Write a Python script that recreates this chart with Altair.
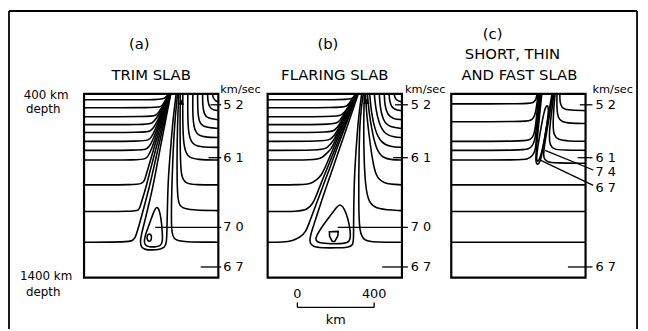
import altair as alt
import pandas as pd

# ---------------- chart data (horizontal distance in km from panel's left edge, depth in km) -------------
PANELS = ["a", "b", "c"]
PANEL_STEP_KM = 957            # distance between left edges of consecutive panels
PANEL_WIDTH_KM = 700
DEPTH_TOP, DEPTH_BOTTOM = 400, 1400

# ---- panel (a) TRIM SLAB
A_LEFT = [
    [(0,432),(390,432),(420,427),(441,400)],
    [(0,475),(370,475),(398,471),(410,460),(416,450),(442,400)],
    [(0,524),(345,524),(375,518),(390,500),(419,450),(443,400)],
    [(0,567),(325,567),(356,560),(372,540),(398,500),(422,450),(444,400)],
    [(0,610),(315,610),(345,603),(360,588),(382,550),(403,500),(424,450),(445,400)],
    [(0,658),(305,658),(335,651),(350,638),(369,600),(388,550),(407,500),(427,450),(446,400)],
    [(0,707),(295,707),(325,700),(340,688),(359,650),(377,600),(394,550),(411,500),(430,450),(447,400)],
    [(0,760),(290,760),(320,753),(334,740),(352,700),(369,650),(384,600),(400,550),(416,500),(432,450),(448,400)],
    [(0,895),(270,895),(300,888),(315,873),(321,850),(335,800),(349,750),(363,700),(392,600),(420,500),(449,400)],
    [(0,1040),(262,1040),(285,1032),(292,1015),(296,1000),(311,950),(325,900),(349,800),(374,700),(400,600),(424,500),(450,400)],
    [(0,1207),(228,1207),(255,1198),(268,1180),(277,1150),(291,1100),(317,1000),(342,900),(364,800),(385,700),(407,600),(429,500),(451,400)],
]
A_RIGHT = [
    [(487,400),(472,560),(462,760),(455,1000),(455,1150),(468,1195),(515,1206),(700,1207)],
    [(494,400),(487,560),(484,760),(486,950),(495,1010),(530,1032),(700,1035)],
    [(502,400),(500,560),(502,760),(507,850),(528,888),(580,895),(700,895)],
    [(515,400),(514,540),(518,680),(538,745),(590,758),(700,760)],
    [(541,400),(540,520),(545,630),(568,680),(620,690),(700,691)],
    [(567,400),(566,500),(572,590),(595,628),(640,636),(700,637)],
    [(592,400),(592,480),(598,550),(620,582),(700,588)],
    [(618,400),(618,460),(625,510),(645,534),(700,540)],
    [(644,400),(645,440),(655,475),(675,488),(700,491)],
    [(670,400),(672,420),(685,438),(700,443)],
]
A_SLAB_OPEN = [
    [(452,400),(433,500),(415,600),(396,700),(378,800),(360,900),(338,1000),(315,1100),(300,1160),
     (292,1205),(298,1235),(318,1248),(355,1250),(395,1246),(420,1236),(430,1212),(432,1150),
     (434,1050),(436,950),(440,850),(447,750),(455,650),(463,550),(472,470),(480,400)],
]
A_SLAB_CLOSED = [
    [(378,1008),(392,1030),(402,1080),(408,1150),(410,1200),(402,1225),(375,1233),(340,1233),
     (318,1225),(312,1200),(322,1160),(340,1110),(360,1050)],
    [(340,1160),(352,1168),(352,1195),(340,1205),(328,1195),(328,1170)],
]
A_TRIANGLES = [(507,445)]

# ---- panel (b) FLARING SLAB
B_LEFT = [
    [(0,432),(400,432),(435,428),(452,415),(458,400)],
    [(0,475),(380,475),(410,468),(425,452),(440,428),(459,400)],
    [(0,524),(355,524),(385,516),(403,496),(415,480),(431,450),(460,400)],
    [(0,567),(330,567),(362,559),(380,540),(392,520),(405,500),(433,450),(461,400)],
    [(0,610),(315,610),(347,601),(365,580),(383,550),(409,500),(436,450),(462,400)],
    [(0,658),(295,658),(328,648),(348,625),(363,600),(388,550),(413,500),(438,450),(463,400)],
    [(0,707),(275,707),(308,696),(330,670),(346,650),(369,600),(393,550),(416,500),(441,450),(464,400)],
    [(0,760),(250,760),(285,748),(310,720),(332,700),(354,650),(376,600),(420,500),(465,400)],
    [(0,895),(185,895),(225,888),(255,868),(279,845),(300,800),(341,700),(383,600),(424,500),(466,400)],
    [(0,1040),(165,1040),(205,1030),(235,1000),(255,950),(273,900),(312,800),(351,700),(390,600),(428,500),(467,400)],
    [(0,1207),(82,1207),(130,1200),(170,1180),(200,1150),(217,1100),(253,1000),(289,900),(325,800),(360,700),(396,600),(432,500),(468,400)],
]
B_RIGHT = [
    [(498,400),(482,520),(476,700),(474,1000),(478,1150),(500,1200),(560,1207),(700,1207)],
    [(504,400),(500,550),(502,760),(510,900),(525,990),(570,1030),(700,1035)],
    [(510,400),(515,500),(528,620),(546,760),(565,850),(600,888),(700,895)],
    [(520,400),(528,500),(544,600),(565,700),(600,750),(650,759),(700,760)],
    [(532,400),(540,500),(560,600),(590,665),(640,688),(700,691)],
    [(556,400),(563,480),(580,560),(610,620),(660,635),(700,637)],
    [(582,400),(586,470),(600,540),(630,580),(700,588)],
    [(608,400),(610,460),(625,515),(655,536),(700,540)],
    [(633,400),(636,445),(650,478),(675,489),(700,491)],
    [(660,400),(663,422),(678,438),(700,443)],
]
B_SLAB_OPEN = [
    [(472,400),(440,500),(407,600),(374,700),(341,800),(308,900),(275,1000),(245,1100),(222,1170),
     (218,1210),(235,1232),(280,1238),(360,1238),(420,1236),(444,1225),(448,1190),(448,1100),
     (449,1000),(451,900),(455,800),(461,700),(468,600),(477,500),(485,440),(490,400)],
]
B_SLAB_CLOSED = [
    [(376,1000),(392,1012),(410,1050),(426,1110),(433,1170),(428,1205),(400,1215),(330,1216),
     (268,1212),(248,1198),(255,1170),(285,1120),(325,1065),(360,1015)],
]
B_D_SHAPE = [[(322,1150),(368,1148),(366,1172),(350,1203),(337,1203),(323,1176)]]
B_WEDGE_DEPTH = [400, 430, 480, 530, 575]
B_WEDGE_LEFT = [462, 456, 446, 436, 428]
B_WEDGE_RIGHT = [490, 484, 470, 458, 448]
B_TRIANGLES = [(515,440)]

# ---- panel (c) SHORT, THIN AND FAST SLAB
C_LEFT = [
    [(0,454),(398,454),(428,448),(442,432),(447,400)],
    [(0,551),(385,551),(415,545),(431,528),(440,500),(447,450),(452,400)],
    [(0,658),(375,658),(408,651),(424,636),(433,615),(441,560),(449,480),(457,400)],
    [(0,707),(370,707),(405,700),(422,684),(432,660),(438,640),(446,560),(454,480),(462,400)],
    [(0,760),(365,760),(400,754),(420,740),(432,720),(439,700),(443,650),(451,560),(459,480),(467,400)],
    [(0,895),(700,895)],
    [(0,1040),(700,1040)],
    [(0,1207),(700,1207)],
]
C_RIGHT = [
    [(530,400),(518,480),(505,560),(492,640),(482,710),(480,748),(497,770),(540,776),(700,777)],
    [(535,400),(525,480),(516,560),(510,630),(514,680),(535,702),(580,706),(700,707)],
    [(541,400),(534,480),(530,570),(534,625),(556,650),(610,657),(700,658)],
    [(551,400),(550,480),(556,530),(576,553),(620,560),(700,561)],
    [(566,400),(566,445),(576,475),(600,488),(700,491)],
]
C_SLAB_OPEN = [
    [(472,400),(464,480),(456,560),(448,650),(442,720),(440,765),(446,785),(458,780),(468,750),
     (478,700),(490,620),(503,540),(515,460),(525,400)],
]
C_SLAB_CLOSED = [
    [(497,458),(508,470),(504,530),(492,610),(478,690),(464,745),(453,770),(444,762),(446,725),
     (457,650),(470,570),(484,495)],
]
C_CORE_DEPTH = [468, 480, 520, 600, 680, 730, 752, 762]
C_CORE_LEFT = [494, 489, 484, 473, 462, 452, 448, 450]
C_CORE_RIGHT = [500, 503, 500, 490, 478, 466, 458, 453]

# ---- velocity labels (km/sec) and their leader lines
VEL_LABELS = [
    ("a", 726, 459, "5 2"), ("a", 726, 747, "6 1"), ("a", 726, 1126, "7 0"), ("a", 726, 1342, "6 7"),
    ("b", 746, 459, "5 2"), ("b", 746, 747, "6 1"), ("b", 746, 1126, "7 0"), ("b", 746, 1342, "6 7"),
    ("c", 752, 459, "5 2"), ("c", 752, 747, "6 1"), ("c", 752, 825, "7 4"), ("c", 752, 911, "6 7"),
    ("c", 752, 1342, "6 7"),
]
LEADERS = [
    ("a", 659, 459, 715, 459), ("a", 649, 747, 715, 747), ("a", 371, 1126, 715, 1126), ("a", 608, 1342, 715, 1342),
    ("b", 664, 459, 731, 459), ("b", 654, 747, 731, 747), ("b", 365, 1126, 731, 1126), ("b", 597, 1342, 731, 1342),
    ("c", 670, 459, 736, 459), ("c", 659, 747, 736, 747), ("c", 489, 707, 740, 814), ("c", 464, 760, 740, 898),
    ("c", 608, 1342, 736, 1342),
]
UNIT_LABELS = [("a", 710, 380, "km/sec"), ("b", 716, 380, "km/sec"), ("c", 736, 380, "km/sec")]
TITLES = [
    ("a", 288, 131, "(a)"), ("a", 350, 298, "TRIM SLAB"),
    ("b", 314, 126, "(b)"), ("b", 350, 298, "FLARING SLAB"),
    ("c", 216, 72, "(c)"), ("c", 319, 185, "SHORT, THIN"), ("c", 355, 298, "AND FAST SLAB"),
]
DEPTH_LABELS = [("a", -198, 404, "400 km"), ("a", -213, 480, "depth"),
                ("a", -198, 1391, "1400 km"), ("a", -213, 1476, "depth")]
# scale bar (km) under panel b
SCALE_BAR = ("b", 155, 555, 1562, 1535)
SCALE_TEXT = [("b", 155, 1491, "0"), ("b", 555, 1491, "400"), ("b", 355, 1631, "km")]

# ---------------- build tables ----------------
OFF = {p: i * PANEL_STEP_KM for i, p in enumerate(PANELS)}


def lines_to_rows(panel, group, lines):
    rows = []
    for i, pts in enumerate(lines):
        for j, (x, d) in enumerate(pts):
            rows.append({"id": f"{panel}-{group}-{i}", "o": j, "x": x + OFF[panel], "d": d})
    return rows


open_rows, closed_rows, dshape_rows = [], [], []
for p, groups in {
    "a": [("L", A_LEFT), ("R", A_RIGHT), ("S", A_SLAB_OPEN)],
    "b": [("L", B_LEFT), ("R", B_RIGHT), ("S", B_SLAB_OPEN)],
    "c": [("L", C_LEFT), ("R", C_RIGHT), ("S", C_SLAB_OPEN)],
}.items():
    for g, lines in groups:
        open_rows += lines_to_rows(p, g, lines)
closed_rows += lines_to_rows("a", "C", A_SLAB_CLOSED)
closed_rows += lines_to_rows("b", "C", B_SLAB_CLOSED)
closed_rows += lines_to_rows("c", "C", C_SLAB_CLOSED)
dshape_rows += lines_to_rows("b", "D", B_D_SHAPE)

area_rows = []
for p, name, ds, ls, rs in [("b", "wedge", B_WEDGE_DEPTH, B_WEDGE_LEFT, B_WEDGE_RIGHT),
                            ("c", "core", C_CORE_DEPTH, C_CORE_LEFT, C_CORE_RIGHT)]:
    for j, (d, l, r) in enumerate(zip(ds, ls, rs)):
        area_rows.append({"id": f"{p}-{name}", "o": j, "d": d, "xl": l + OFF[p], "xr": r + OFF[p]})

tri_rows = [{"x": x + OFF[p], "d": d} for p, pts in [("a", A_TRIANGLES), ("b", B_TRIANGLES)] for x, d in pts]

box_rows = [{"x": OFF[p], "x2": OFF[p] + PANEL_WIDTH_KM, "d": DEPTH_TOP, "d2": DEPTH_BOTTOM} for p in PANELS]

rule_rows = [{"x": x1 + OFF[p], "x2": x2 + OFF[p], "d": d1, "d2": d2} for p, x1, d1, x2, d2 in LEADERS]
sp, sx1, sx2, sy, sty = SCALE_BAR
rule_rows += [
    {"x": sx1 + OFF[sp], "x2": sx2 + OFF[sp], "d": sy, "d2": sy},
    {"x": sx1 + OFF[sp], "x2": sx1 + OFF[sp], "d": sty, "d2": sy},
    {"x": sx2 + OFF[sp], "x2": sx2 + OFF[sp], "d": sty, "d2": sy},
]


def text_rows(items):
    return [{"x": x + OFF[p], "d": d, "t": t} for p, x, d, t in items]


# ---------------- layout: km <-> page ----------------
W, H = 640, 323
KM_PER_PX_X = PANEL_WIDTH_KM / 136.0
KM_PER_PX_Y = (DEPTH_BOTTOM - DEPTH_TOP) / 186.0
X0 = -77 * KM_PER_PX_X
Y0 = DEPTH_TOP - 85 * KM_PER_PX_Y
XS = alt.Scale(domain=[X0, X0 + W * KM_PER_PX_X], nice=False, zero=False)
YS = alt.Scale(domain=[Y0, Y0 + H * KM_PER_PX_Y], nice=False, zero=False, reverse=True)
X = alt.X("x:Q", scale=XS, axis=None)
Y = alt.Y("d:Q", scale=YS, axis=None)

# outer frame of the figure
frame_rows = [
    {"x": X0 + 1 * KM_PER_PX_X, "x2": X0 + 637 * KM_PER_PX_X, "d": Y0 + 1 * KM_PER_PX_Y, "d2": Y0 + 1 * KM_PER_PX_Y},
    {"x": X0 + 1 * KM_PER_PX_X, "x2": X0 + 1 * KM_PER_PX_X, "d": Y0 + 1 * KM_PER_PX_Y, "d2": Y0 + H * KM_PER_PX_Y},
    {"x": X0 + 637 * KM_PER_PX_X, "x2": X0 + 637 * KM_PER_PX_X, "d": Y0 + 1 * KM_PER_PX_Y, "d2": Y0 + H * KM_PER_PX_Y},
]

FONT = "DejaVu Sans"
LW = 1.6

open_lines = alt.Chart(pd.DataFrame(open_rows)).mark_line(
    interpolate="basis", color="black", strokeWidth=LW).encode(x=X, y=Y, detail="id:N", order="o:Q")
closed_lines = alt.Chart(pd.DataFrame(closed_rows)).mark_line(
    interpolate="basis-closed", color="black", strokeWidth=LW).encode(x=X, y=Y, detail="id:N", order="o:Q")
dshape = alt.Chart(pd.DataFrame(dshape_rows)).mark_line(
    interpolate="linear-closed", color="black", strokeWidth=LW).encode(x=X, y=Y, detail="id:N", order="o:Q")
areas = alt.Chart(pd.DataFrame(area_rows)).mark_area(
    orient="horizontal", color="black", interpolate="basis").encode(
    y=Y, x=alt.X("xl:Q", scale=XS, axis=None), x2="xr:Q", detail="id:N", order="o:Q")
tris = alt.Chart(pd.DataFrame(tri_rows)).mark_point(
    shape="triangle-up", filled=True, color="black", size=38, opacity=1).encode(x=X, y=Y)
boxes = alt.Chart(pd.DataFrame(box_rows)).mark_rect(
    fillOpacity=0, stroke="black", strokeWidth=2.2).encode(x=X, x2="x2:Q", y=Y, y2="d2:Q")
rules = alt.Chart(pd.DataFrame(rule_rows)).mark_rule(
    color="black", strokeWidth=1.3).encode(x=X, x2="x2:Q", y=Y, y2="d2:Q")
frame = alt.Chart(pd.DataFrame(frame_rows)).mark_rule(
    color="black", strokeWidth=1.8).encode(x=X, x2="x2:Q", y=Y, y2="d2:Q")


def texts(items, size, align="center"):
    return alt.Chart(pd.DataFrame(text_rows(items))).mark_text(
        font=FONT, fontSize=size, align=align, baseline="middle", color="black").encode(x=X, y=Y, text="t:N")


chart = alt.layer(
    frame, boxes, open_lines, closed_lines, dshape, areas, tris, rules,
    texts(TITLES, 15), texts(DEPTH_LABELS, 12), texts(UNIT_LABELS, 11.5, "left"),
    texts(VEL_LABELS, 13, "left"), texts(SCALE_TEXT, 13),
).properties(
    width=W, height=H, autosize=alt.AutoSizeParams(type="none"), padding=0, background="white"
).configure_view(stroke=None)

chart.save("out.html", embed_options={"renderer": "svg", "actions": False})
